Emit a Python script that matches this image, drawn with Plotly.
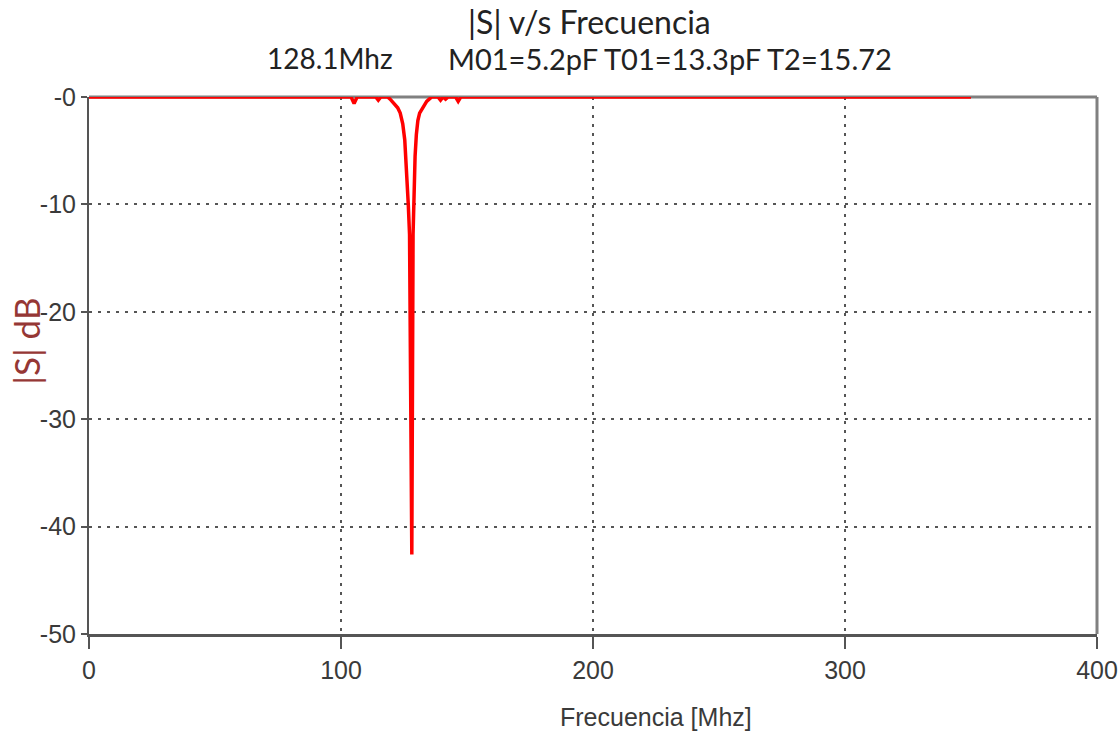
import plotly.graph_objects as go

# |S| response sweep (MHz, dB)
freq_mhz = [0, 104.0, 105.2, 106.4, 113.8, 114.8, 115.8, 118.5,
            119.5, 120.5, 121.5, 122.5, 123.5, 124.5, 125.3, 126.0, 126.7, 127.2,
            128.1,
            128.6, 129.0, 129.4, 129.9, 130.5, 131.2, 132.0, 133.0, 134.0, 135.0, 136.0,
            138.5, 139.5, 140.5, 141.5, 142.5, 145.5, 146.5, 147.5, 350.0]
s_db = [0, 0, -0.6, 0, 0, -0.3, 0, 0,
        -0.2, -0.5, -0.8, -1.0, -1.5, -2.5, -4.0, -6.5, -10.0, -12.8,
        -42.6,
        -12.8, -8.0, -5.5, -3.5, -2.2, -1.5, -1.2, -0.8, -0.4, -0.2, 0,
        0, -0.3, 0, -0.2, 0, 0, -0.4, 0, 0]

x_ticks = [0, 100, 200, 300, 400]
y_ticks = [0, -10, -20, -30, -40, -50]
y_tick_text = ["-0", "-10", "-20", "-30", "-40", "-50"]

title_main = "|S| v/s Frecuencia"
marker_freq = "128.1Mhz"
params_text = "M01=5.2pF T01=13.3pF T2=15.72"
x_title = "Frecuencia [Mhz]"
y_title = "|S| dB"

axis_font = "Liberation Sans, Arial, sans-serif"
tick_font = dict(family=axis_font, size=25, color="#3a3a3a")
text_font = "Lato, Open Sans, sans-serif"

fig = go.Figure()
fig.add_trace(go.Scatter(
    x=freq_mhz, y=s_db, mode="lines",
    line=dict(color="#ff0000", width=3.5),
    cliponaxis=False, hoverinfo="skip", showlegend=False,
))

fig.update_layout(
    width=1120, height=734,
    margin=dict(l=89, r=23, t=97, b=100, autoexpand=False),
    paper_bgcolor="white", plot_bgcolor="white",
    xaxis=dict(
        range=[0, 400], tickvals=x_ticks, ticks="outside", ticklen=12,
        tickcolor="#555555", tickwidth=2, tickfont=tick_font, automargin=False,
        showline=True, linecolor="#555555", linewidth=3,
        showgrid=True, gridcolor="#555555", gridwidth=2, griddash="3px,6px",
        zeroline=False, layer="below traces",
    ),
    yaxis=dict(
        range=[-50, 0], tickvals=y_ticks, ticktext=y_tick_text, ticks="outside",
        ticklen=6, tickcolor="#555555", tickwidth=2, tickfont=tick_font,
        automargin=False,
        showline=True, linecolor="#555555", linewidth=2,
        showgrid=True, gridcolor="#555555", gridwidth=2, griddash="3px,6px",
        zeroline=False, layer="below traces",
    ),
    shapes=[
        # top and right frame edges
        dict(type="line", xref="paper", yref="paper", x0=0, x1=1, y0=1, y1=1,
             line=dict(color="#808080", width=3), layer="below"),
        dict(type="line", xref="paper", yref="paper", x0=1, x1=1, y0=0, y1=1,
             line=dict(color="#808080", width=3), layer="below"),
    ],
    annotations=[
        dict(text=title_main, xref="paper", yref="paper", x=0.4965, y=1.1397,
             xanchor="center", yanchor="middle", showarrow=False,
             font=dict(family=text_font, size=32, color="#222222")),
        dict(text=marker_freq, xref="paper", yref="paper", x=0.1746, y=1.0726,
             xanchor="left", yanchor="middle", showarrow=False,
             font=dict(family=text_font, size=28, color="#222222")),
        dict(text=params_text, xref="paper", yref="paper", x=0.354, y=1.0726,
             xanchor="left", yanchor="middle", showarrow=False,
             font=dict(family=text_font, size=29, color="#222222")),
        dict(text=x_title, xref="paper", yref="paper", x=0.5625, y=-0.1546,
             xanchor="center", yanchor="middle", showarrow=False,
             font=dict(family=axis_font, size=25, color="#3a3a3a")),
        dict(text=y_title, xref="paper", yref="paper", x=-0.0625, y=0.544,
             xanchor="center", yanchor="middle", showarrow=False, textangle=-90,
             font=dict(family=text_font, size=35, color="#953735")),
    ],
)

fig.write_html("out.html")
